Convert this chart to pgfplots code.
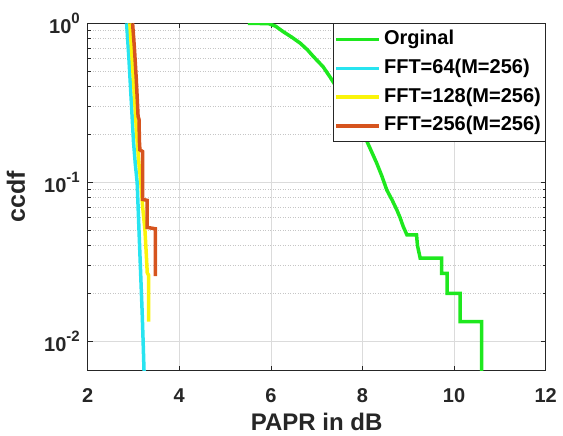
\documentclass[border=0pt]{standalone}
\usepackage{fontspec}
\setmainfont{Liberation Sans}
\usepackage{pgfplots}
\pgfplotsset{compat=1.18}

\definecolor{cgreen}{RGB}{30,232,30}
\definecolor{ccyan}{RGB}{40,228,240}
\definecolor{cyel}{RGB}{250,244,10}
\definecolor{corange}{RGB}{214,84,30}
\definecolor{axgray}{RGB}{38,38,38}

% 10^k tick label in the text font
\newcommand{\pw}[1]{10\raisebox{10pt}{\fontsize{15}{15}\selectfont #1}}

\begin{document}
\begin{tikzpicture}
\begin{axis}[
  scale only axis, width=458pt, height=347.4pt,
  ymode=log,
  xmin=2, xmax=12, ymin=0.00653, ymax=1,
  xtick={2,4,6,8,10,12}, xticklabels={2,4,6,8,10,12},
  ytick={0.01,0.1,1}, yticklabels={\pw{-2},\pw{-1},\pw{0}},
  tick align=inside, tick pos=both,
  major tick length=5pt, minor tick length=3pt,
  axis line style={axgray, line width=0.8pt},
  every tick/.style={axgray, line width=0.6pt},
  xmajorgrids, ymajorgrids, yminorgrids,
  major grid style={gray!28, line width=0.5pt},
  minor grid style={gray!45, line width=0.5pt, dotted},
  tick label style={font=\fontsize{20}{24}\selectfont\bfseries, text=axgray},
  xticklabel style={anchor=base, yshift=-32pt},
  yticklabel style={anchor=east, inner sep=0pt, xshift=-7.7pt},
  xlabel={PAPR in dB}, ylabel={ccdf},
  every axis x label/.style={at={(axis description cs:0.5,-0.1728)}, anchor=base,
    font=\fontsize{24}{28}\selectfont\bfseries, text=axgray},
  every axis y label/.style={at={(axis description cs:-0.137,0.5)}, anchor=base, rotate=90,
    font=\fontsize{25}{28}\selectfont\bfseries, text=axgray},
  legend style={at={(1,1)}, anchor=north east, draw=axgray, line width=0.8pt,
    fill=white, inner sep=1.5pt,
    font=\fontsize{20}{22}\selectfont\bfseries,
    nodes={inner xsep=3pt, inner ysep=4.4pt, text height=15pt, text depth=5pt},
    cells={anchor=west}},
  legend image code/.code={\draw[#1] (0pt,0pt) -- (43pt,0pt);},
]
\addplot[cgreen, line width=3.5pt] coordinates {
 (5.50,1.0) (5.95,0.995) (6.10,0.96) (6.27,0.885) (6.45,0.82) (6.64,0.75)
 (6.80,0.68) (6.93,0.617) (7.14,0.533) (7.29,0.46) (7.50,0.37) (7.75,0.28)
 (8.05,0.194) (8.18,0.16) (8.31,0.132) (8.42,0.11) (8.53,0.0895) (8.65,0.077)
 (8.75,0.067) (8.82,0.06) (8.89,0.0526) (8.97,0.0467) (9.18,0.0467) (9.20,0.04)
 (9.26,0.0333) (9.73,0.0333) (9.73,0.0267) (9.85,0.0267) (9.85,0.02)
 (10.13,0.02) (10.13,0.0133) (10.60,0.0133) (10.60,0.0065)
};
\addplot[ccyan, line width=3.5pt] coordinates {
 (2.85,1) (2.90,0.6) (2.95,0.33) (3.00,0.18) (3.04,0.13) (3.08,0.1)
 (3.12,0.05) (3.16,0.025) (3.19,0.015) (3.21,0.01) (3.23,0.0065)
};
\addplot[cyel, line width=3.5pt] coordinates {
 (2.92,1) (2.97,0.6) (3.02,0.35) (3.07,0.2) (3.12,0.13) (3.16,0.1)
 (3.20,0.07) (3.25,0.05) (3.28,0.035) (3.30,0.027) (3.33,0.026) (3.33,0.0133)
};
\addplot[corange, line width=3.5pt] coordinates {
 (2.98,1) (3.02,0.7) (3.06,0.45) (3.09,0.3) (3.10,0.26) (3.12,0.25)
 (3.13,0.18) (3.14,0.16) (3.20,0.156) (3.20,0.078) (3.30,0.077) (3.30,0.052)
 (3.48,0.051) (3.48,0.0257)
};
\legend{Orginal, FFT=64(M=256), FFT=128(M=256), FFT=256(M=256)}
\end{axis}
\pgfresetboundingbox
\useasboundingbox (current axis.south west) ++(-87.7pt,-65.3pt) rectangle ++(563pt,436pt);
\end{tikzpicture}
\end{document}
